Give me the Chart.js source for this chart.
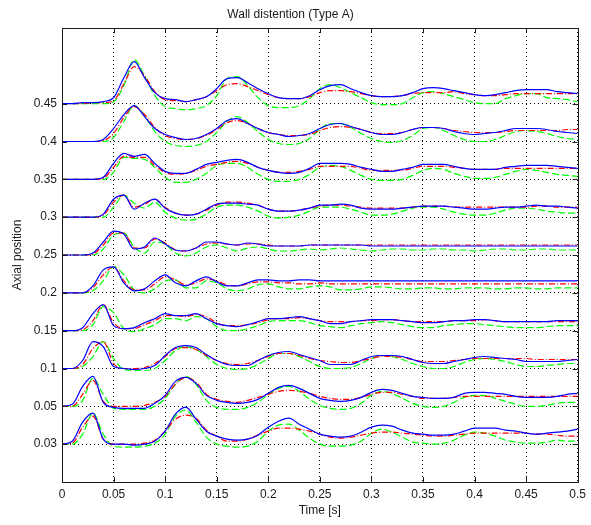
<!DOCTYPE html>
<html>
<head>
<meta charset="utf-8">
<script src="https://cdn.jsdelivr.net/npm/chart.js@4.4.1/dist/chart.umd.min.js"></script>
<style>
  html, body { margin: 0; padding: 0; background: #fff; }
  canvas { display: block; }
</style>
</head>
<body>
<canvas id="wallChart" width="591" height="525"></canvas>
<script>
// sample times [s]
const times = [0, 0.01, 0.02, 0.03, 0.04, 0.05, 0.06, 0.07, 0.08, 0.09,
  0.1, 0.11, 0.12, 0.13, 0.14, 0.15, 0.16, 0.17, 0.18, 0.19,
  0.2, 0.21, 0.22, 0.23, 0.24, 0.25, 0.26, 0.27, 0.28, 0.29,
  0.3, 0.31, 0.32, 0.33, 0.34, 0.35, 0.36, 0.37, 0.38, 0.39,
  0.4, 0.41, 0.42, 0.43, 0.44, 0.45, 0.46, 0.47, 0.48, 0.49, 0.5];

// axial positions (tick labels) and where each trace sits on the axis
const positions = ['0.03', '0.05', '0.1', '0.15', '0.2', '0.25', '0.3', '0.35', '0.4', '0.45'];
const offsets = [0, 0.05, 0.1, 0.15, 0.2, 0.25, 0.3, 0.35, 0.4, 0.45];
const xTicks = [0, 0.05, 0.1, 0.15, 0.2, 0.25, 0.3, 0.35, 0.4, 0.45, 0.5];

// wall distention (a.u.), blue / red / green per position
const b45 = [0,0,1,1,2, 6,26,42,26,11, 5,4,2,4,7, 15,25,26,21,15, 10,6,5,5,8, 14,18,19,15,11, 8,7,7,8,11, 15,16,15,13,11, 9,8,9,11,13, 14,14,14,12,11, 10];
const r45 = [0,0,0,1,1, 3,20,37,28,12, 4,3,2,4,7, 13,19,20,17,13, 9,6,5,5,7, 11,13,13,12,10, 8,7,7,8,10, 11,11,11,12,10, 9,8,8,9,10, 10,10,10,10,10, 10];
const g45 = [0,0,0,0,0, 2,18,44,28,8, -3,-5,-6,-5,-2, 8,25,27,18,6, -2,-4,-4,-2,5, 15,19,16,11,6, 1,-1,-1,0,6, 11,12,10,7,4, 1,0,0,5,8, 10,10,6,5,4, 2];

const b40 = [0,0,0,0,2, 13,27,36,25,13, 7,4,2,3,7, 13,21,23,18,13, 9,7,5,6,8, 13,17,18,15,12, 9,7,7,9,12, 14,14,13,10,8, 7,8,9,11,13, 13,13,12,10,9, 8];
const r40 = [0,0,0,0,1, 8,24,35,27,14, 6,3,2,3,6, 12,19,21,18,13, 9,7,6,6,7, 11,14,15,14,12, 9,8,8,9,12, 14,14,13,11,10, 9,9,9,10,11, 11,11,11,11,12, 12];
const g40 = [0,0,0,0,0, 4,20,36,26,10, 0,-4,-5,-4,0, 9,20,25,19,10, 2,-2,-3,-2,3, 12,18,18,14,8, 3,0,-1,1,6, 13,14,11,6,2, 0,0,2,6,10, 11,10,8,5,3, 2];

const b35 = [0,0,0,0,2, 16,26,23,25,16, 8,6,6,10,15, 17,19,20,17,12, 9,7,6,7,11, 16,16,16,15,12, 10,8,8,10,12, 15,15,15,13,11, 10,10,10,12,13, 14,14,14,13,12, 11];
const r35 = [0,0,0,0,1, 12,23,22,22,14, 7,5,6,9,13, 15,17,18,16,12, 9,7,7,8,10, 13,13,13,13,11, 9,9,9,9,11, 13,13,13,12,11, 10,10,10,11,11, 11,11,11,11,11, 11];
const g35 = [0,0,0,0,0, 7,22,21,20,12, 2,-3,-3,0,6, 14,16,16,12,5, 0,-2,-2,0,5, 12,14,13,9,4, 0,-1,-1,0,4, 9,11,10,6,3, 1,1,2,5,8, 10,9,7,5,4, 3];

const b30 = [0,0,0,0,3, 18,22,8,14,18, 9,4,2,3,8, 13,14,14,13,12, 8,6,6,7,9, 12,12,13,12,9, 8,8,8,9,10, 11,11,11,10,9, 8,8,9,10,10, 11,12,11,11,10, 9];
const r30 = [0,0,0,0,2, 15,22,10,13,18, 10,4,2,3,7, 12,15,15,14,12, 8,6,6,7,9, 11,12,12,11,10, 9,9,9,9,10, 11,11,11,10,10, 10,10,10,10,10, 10,11,11,10,10, 10];
const g30 = [0,0,0,0,0, 10,22,14,9,15, 5,-1,-3,-2,3, 10,12,12,10,6, 1,-1,0,2,6, 10,10,10,8,5, 2,2,3,6,9, 10,10,8,5,3, 2,2,4,7,9, 9,8,6,5,4, 4];

const b25 = [0,0,0,2,13, 24,21,6,8,17, 11,5,4,7,13, 13,11,10,12,11, 9,9,9,9,10, 10,10,10,10,10, 9,9,9,9,9, 9,9,9,9,9, 9,9,9,9,9, 9,9,9,9,9, 9];
const r25 = [0,0,0,1,10, 22,22,7,7,16, 12,5,4,7,11, 12,11,10,11,11, 10,9,9,9,10, 10,10,10,10,10, 10,10,10,10,10, 10,10,10,10,10, 10,10,10,10,10, 10,10,10,10,10, 10];
const g25 = [0,0,0,0,6, 20,22,8,2,13, 11,2,-1,2,8, 10,7,4,7,8, 6,4,4,5,6, 5,6,7,6,5, 4,5,6,6,5, 5,6,6,5,5, 4,5,6,6,5, 5,6,6,5,5, 5];

const b20 = [0,0,0,7,23, 26,10,2,4,12, 18,10,7,12,16, 11,7,7,10,13, 13,12,12,13,13, 12,12,12,12,12, 12,12,12,12,12, 12,12,12,12,12, 12,12,12,12,12, 12,12,12,12,12, 12];
const r20 = [0,0,0,5,18, 26,12,3,3,9, 16,13,8,10,14, 12,8,7,9,11, 11,10,10,9,9, 10,9,9,9,9, 9,9,9,9,9, 9,9,9,9,9, 9,9,9,9,9, 9,9,9,9,9, 9];
const g20 = [0,0,0,2,12, 26,18,3,0,4, 12,13,5,5,12, 10,4,2,4,8, 9,6,4,4,6, 7,6,3,3,4, 6,6,5,4,4, 5,5,4,4,5, 5,5,4,4,5, 5,4,4,5,5, 5];

const b15 = [0,0,3,17,26, 5,2,3,8,12, 17,15,15,17,12, 7,5,4,6,9, 12,12,13,14,12, 10,7,7,9,10, 11,11,11,10,9, 8,8,9,10,10, 11,11,10,9,9, 9,9,9,10,10, 10];
const r15 = [0,0,1,10,26, 8,2,2,6,10, 15,15,14,16,14, 8,5,5,6,8, 11,12,12,13,12, 10,9,9,9,10, 10,11,11,10,9, 9,9,9,10,10, 10,11,10,9,9, 9,9,9,9,9, 9];
const g15 = [0,0,0,6,24, 18,2,-1,2,6, 12,12,10,14,12, 4,0,0,2,5, 9,10,10,10,8, 5,4,3,5,7, 8,9,8,6,4, 3,3,5,6,7, 7,6,5,4,3, 3,3,4,5,5, 5];

const b10 = [0,0,8,27,22, 2,0,-1,0,3, 13,21,23,21,14, 8,4,3,3,8, 13,16,17,14,11, 8,4,4,4,8, 12,13,13,12,9, 6,5,5,7,9, 11,12,11,10,9, 7,7,7,7,8, 9];
const r10 = [0,0,4,20,27, 5,0,0,1,5, 12,20,21,19,13, 8,5,4,5,8, 12,15,15,13,10, 8,7,6,6,8, 10,12,12,11,9, 7,7,7,8,9, 10,10,10,10,10, 10,9,9,9,9, 9];
const g10 = [0,0,2,12,27, 10,-1,-2,-2,0, 8,18,22,19,12, 4,0,-1,0,4, 10,15,15,12,7, 2,0,0,1,5, 10,13,12,9,5, 2,0,0,2,6, 9,10,9,7,4, 2,2,3,4,5, 5];

const b05 = [0,2,20,30,4, -1,-2,-2,-2,3, 11,25,29,23,11, 6,4,3,4,7, 13,19,21,18,13, 8,6,5,6,9, 14,17,16,13,10, 9,8,8,9,13, 14,14,13,12,10, 9,9,9,10,12, 13];
const r05 = [0,0,12,26,5, 0,0,0,1,4, 10,22,29,24,12, 7,5,4,6,9, 12,15,16,15,13, 10,8,7,7,9, 12,14,14,12,10, 8,8,8,9,10, 10,10,10,10,10, 10,10,10,10,10, 10];
const g05 = [0,0,6,28,12, -2,-3,-3,-3,0, 8,22,30,22,6, -1,-3,-3,-1,4, 12,18,20,15,7, 1,-2,-3,-2,3, 11,15,13,8,3, 0,-1,0,4,9, 11,11,8,5,2, 0,0,1,3,4, 4];

const b03 = [0,3,22,31,5, 0,0,-1,0,3, 13,30,37,25,13, 8,5,4,5,9, 17,23,26,20,15, 10,8,7,8,12, 17,19,18,14,11, 10,9,9,10,13, 16,16,16,14,13, 11,10,11,12,13, 15];
const r03 = [0,1,17,28,5, 0,0,0,1,4, 13,25,29,26,14, 8,3,3,5,9, 13,16,16,15,13, 10,7,6,7,9, 11,12,12,11,10, 9,8,8,9,10, 11,11,11,11,11, 11,10,10,9,8, 8];
const g03 = [0,0,10,31,10, -2,-3,-3,-2,1, 10,28,34,22,7, 0,-2,-3,-2,3, 13,19,20,14,6, 0,-2,-2,-1,3, 11,15,12,7,2, 1,0,1,4,9, 12,11,8,4,2, 1,1,2,4,3, 3];

const blueSets = [b03, b05, b10, b15, b20, b25, b30, b35, b40, b45];
const redSets = [r03, r05, r10, r15, r20, r25, r30, r35, r40, r45];
const greenSets = [g03, g05, g10, g15, g20, g25, g30, g35, g40, g45];

// distention units -> axis units
const gain = 0.00132;

const FONT = 'Liberation Sans, Arial, Helvetica, sans-serif';

function trace(vals, k) {
  return times.map((t, i) => ({ x: t, y: offsets[k] + vals[i] * gain }));
}

const datasets = [];
offsets.forEach((off, k) => {
  datasets.push({
    data: trace(blueSets[k], k),
    borderColor: '#0000ff',
    borderWidth: 1.2
  });
  datasets.push({
    data: trace(redSets[k], k),
    borderColor: '#ff0000',
    borderWidth: 1.2,
    borderDash: [6, 2, 1, 2]
  });
  datasets.push({
    data: trace(greenSets[k], k),
    borderColor: '#00ff00',
    borderWidth: 1.2,
    borderDash: [7, 3]
  });
});

// box round the axes with inward tick marks
const frame = {
  id: 'frame',
  afterDraw(chart) {
    const { ctx, chartArea: a, scales: { x, y } } = chart;
    ctx.save();
    ctx.strokeStyle = '#1a1a1a';
    ctx.lineWidth = 1;
    ctx.beginPath();
    xTicks.forEach(v => {
      const px = Math.round(x.getPixelForValue(v)) + 0.5;
      ctx.moveTo(px, a.bottom); ctx.lineTo(px, a.bottom - 5);
      ctx.moveTo(px, a.top); ctx.lineTo(px, a.top + 5);
    });
    offsets.forEach(v => {
      const py = Math.round(y.getPixelForValue(v)) + 0.5;
      ctx.moveTo(a.left, py); ctx.lineTo(a.left + 5, py);
      ctx.moveTo(a.right, py); ctx.lineTo(a.right - 5, py);
    });
    ctx.stroke();
    ctx.strokeRect(Math.round(a.left) + 0.5, Math.round(a.top) + 0.5,
      Math.round(a.right - a.left), Math.round(a.bottom - a.top));
    ctx.restore();
  }
};

new Chart(document.getElementById('wallChart'), {
  type: 'line',
  data: { datasets: datasets },
  plugins: [frame],
  options: {
    responsive: false,
    animation: false,
    devicePixelRatio: 1,
    layout: { padding: { left: 0, right: 10, top: 0, bottom: 0 } },
    elements: {
      point: { radius: 0 },
      line: { cubicInterpolationMode: 'monotone', fill: false }
    },
    plugins: {
      legend: { display: false },
      tooltip: { enabled: false },
      title: {
        display: true,
        text: 'Wall distention (Type A)',
        color: '#1a1a1a',
        font: { family: FONT, size: 12, weight: 'normal' },
        padding: { top: 7, bottom: 6.6 }
      }
    },
    scales: {
      x: {
        type: 'linear',
        min: 0,
        max: 0.5,
        afterBuildTicks: s => { s.ticks = xTicks.map(v => ({ value: v })); },
        afterFit: s => { s.height = 43; },
        ticks: {
          color: '#1a1a1a',
          padding: 5,
          maxRotation: 0,
          font: { family: FONT, size: 12 },
          callback: v => String(Number(v.toFixed(2)))
        },
        grid: { color: '#000', lineWidth: 1, drawTicks: false },
        border: { display: false, dash: [1, 3] },
        title: {
          display: true,
          text: 'Time [s]',
          color: '#1a1a1a',
          font: { family: FONT, size: 12 },
          padding: { top: 0, bottom: 7 }
        }
      },
      y: {
        type: 'linear',
        min: -0.05,
        max: 0.55,
        afterBuildTicks: s => { s.ticks = offsets.map(v => ({ value: v })); },
        afterFit: s => { s.width = 62; },
        ticks: {
          color: '#1a1a1a',
          padding: 5,
          font: { family: FONT, size: 12 },
          callback: (v, i) => positions[i]
        },
        grid: { color: '#000', lineWidth: 1, drawTicks: false },
        border: { display: false, dash: [1, 3] },
        title: {
          display: true,
          text: 'Axial position',
          color: '#1a1a1a',
          font: { family: FONT, size: 12 },
          padding: { top: 10, bottom: 0 }
        }
      }
    }
  }
});
</script>
</body>
</html>
